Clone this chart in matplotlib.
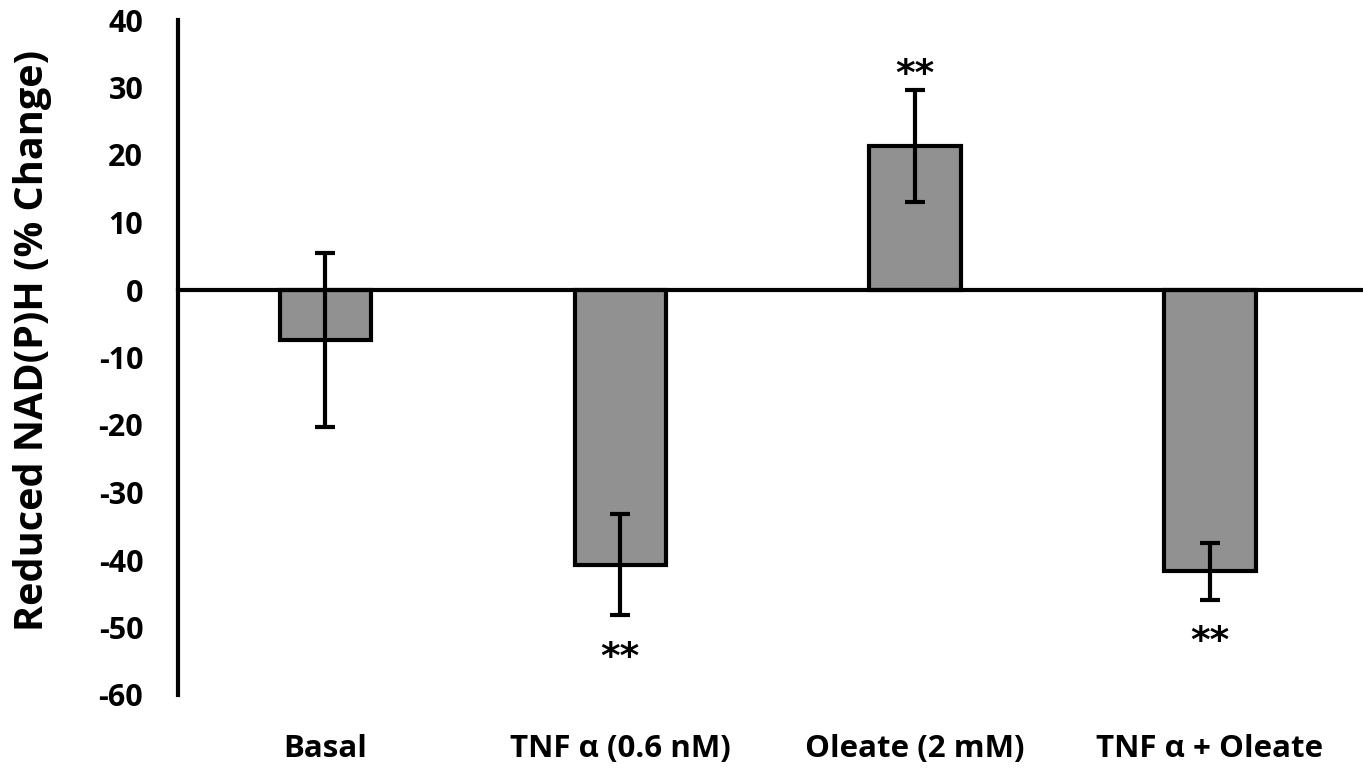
import matplotlib
matplotlib.use("Agg")
import matplotlib.pyplot as plt
import numpy as np

categories = ["Basal", "TNF \u03b1 (0.6 nM)", "Oleate (2 mM)", "TNF \u03b1 + Oleate"]
values = [-7.4, -40.7, 21.3, -41.7]
errors = [12.9, 7.5, 8.3, 4.2]
significance = ["", "**", "**", "**"]
yticks = list(range(-60, 41, 10))

plt.rcParams['font.family'] = ['Open Sans', 'DejaVu Sans']
plt.rcParams['font.weight'] = 'bold'

fig = plt.figure(figsize=(13.63, 7.71), dpi=100)
ax = fig.add_axes([178/1363, 76/771, (1357.5-178)/1363, 675/771])

x = np.arange(len(categories))
ax.bar(x, values, width=0.31, color="#919191", edgecolor="black", linewidth=3, zorder=2)
ax.errorbar(x, values, yerr=errors, fmt="none", ecolor="black", elinewidth=3,
            capsize=7, capthick=3, zorder=3)
ax.axhline(0, color="black", linewidth=3, zorder=4, xmin=0, xmax=1.01, clip_on=False)

for xi, v, e, s in zip(x, values, errors, significance):
    if not s:
        continue
    if v >= 0:
        ax.text(xi, v + e + 2.2, s, ha="center", va="center", fontsize=27,
                fontweight="bold", family=["DejaVu Sans"])
    else:
        ax.text(xi, v - e - 6.3, s, ha="center", va="center", fontsize=27,
                fontweight="bold", family=["DejaVu Sans"])

ax.set_xlim(-0.5, 3.5)
ax.set_ylim(-60, 40)
ax.set_yticks(yticks)
ax.set_yticklabels([str(t) for t in yticks], fontsize=22, fontweight="bold")
ax.set_xticks(x)
ax.set_xticklabels(categories, fontsize=22.5, fontweight="bold")
ax.tick_params(axis="y", length=0, pad=25)
ax.tick_params(axis="x", length=0, pad=28)
for sp in ["top", "right", "bottom"]:
    ax.spines[sp].set_visible(False)
ax.spines["left"].set_linewidth(3)
ax.set_ylabel("Reduced NAD(P)H (% Change)", fontsize=28.5, fontweight="bold")
ax.yaxis.set_label_coords(-0.107, 0.526)

fig.savefig("out.png", dpi=100)
